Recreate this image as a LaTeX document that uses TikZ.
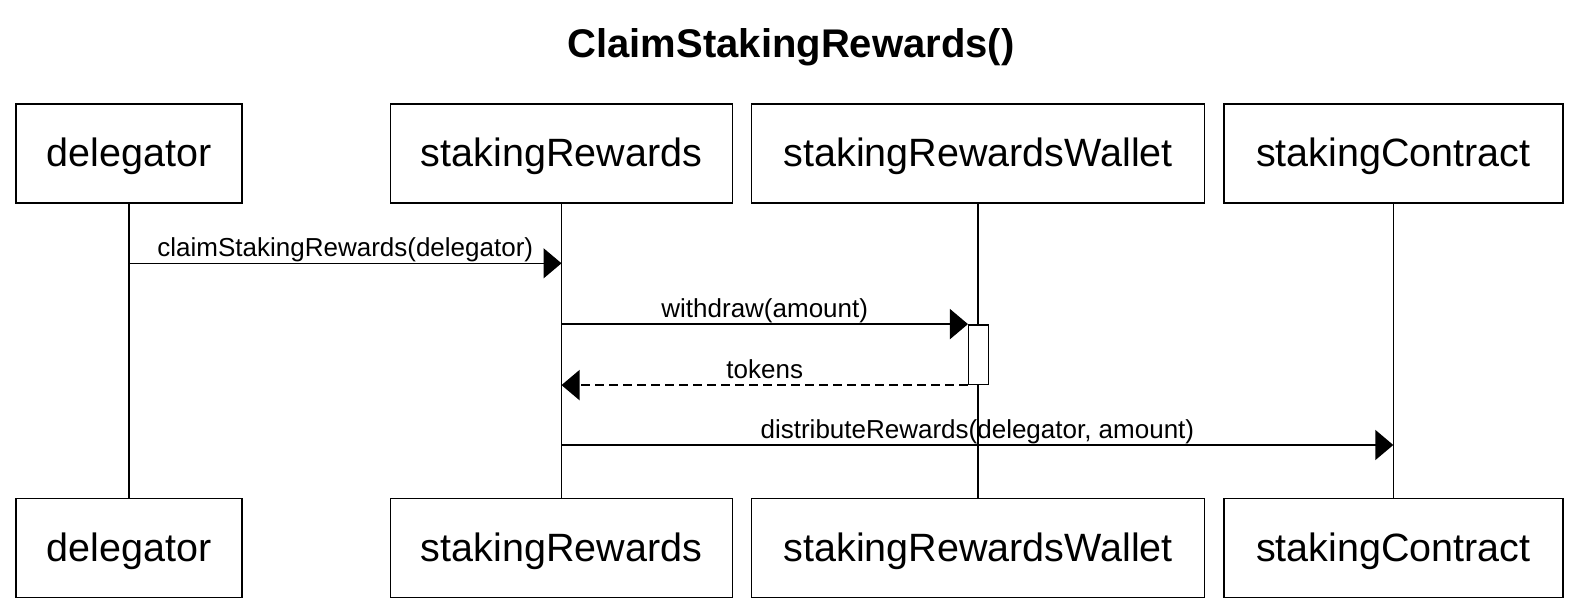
\documentclass[tikz,border=0pt]{standalone}
\usepackage{fontspec}
\setmainfont{Liberation Sans}
\usetikzlibrary{arrows.meta}
\begin{document}
\begin{tikzpicture}[x=1pt,y=-1pt,
  actorbox/.style={draw=black, line width=1.5pt, rectangle, inner sep=0pt,
    minimum height=99pt, text height=30pt, text depth=3pt,
    font=\fontsize{39.5}{47}\selectfont},
  lifeline/.style={draw=black, line width=1.5pt},
  actbox/.style={draw=black, fill=white, line width=1.5pt, rectangle, inner sep=0pt,
    minimum width=20pt, minimum height=59.5pt},
  msg/.style={draw=black, line width=1.5pt, -{Triangle[length=18pt,width=30pt]}},
  retmsg/.style={msg, dash pattern=on 9pt off 5pt},
  msglbl/.style={midway, anchor=base, yshift=6.5pt, inner sep=0pt,
    font=\fontsize{26}{31}\selectfont}
]
\fill[white] (0,0) rectangle (1582,610);
\useasboundingbox (0,0) rectangle (1582,610);

\node[anchor=base, font=\bfseries\fontsize{40}{48}\selectfont] (title) at (791,57.5) {ClaimStakingRewards()};

% top boxes
\node[actorbox, minimum width=226pt] (d)  at (129.1,153.4) {delegator};
\node[actorbox, minimum width=342pt] (sr) at (561.5,153.4) {stakingRewards};
\node[actorbox, minimum width=453pt] (w)  at (978.2,153.4) {stakingRewardsWallet};
\node[actorbox, minimum width=339pt] (sc) at (1393.3,153.4) {stakingContract};
% bottom boxes
\node[actorbox, minimum width=226pt] (db)  at (129.1,547.9) {delegator};
\node[actorbox, minimum width=342pt] (srb) at (561.5,547.9) {stakingRewards};
\node[actorbox, minimum width=453pt] (wb)  at (978.2,547.9) {stakingRewardsWallet};
\node[actorbox, minimum width=339pt] (scb) at (1393.3,547.9) {stakingContract};

% lifelines
\draw[lifeline] (d.south) -- (db.north);
\draw[lifeline] (sr.south) -- (srb.north);
\draw[lifeline] (w.south) -- (wb.north);
\draw[lifeline] (sc.south) -- (scb.north);

% activation
\node[actbox] (act) at (978.7,354.6) {};

% messages
\draw[msg] (d.south |- 0,263.3) -- node[msglbl]{claimStakingRewards(delegator)} (sr.south |- 0,263.3);
\draw[msg] (sr.south |- act.north) -- node[msglbl]{withdraw(amount)} (act.north west);
\draw[retmsg] (act.south west) -- node[msglbl]{tokens} (sr.south |- act.south);
\draw[msg] (sr.south |- 0,445) -- node[msglbl]{distributeRewards(delegator, amount)} (sc.south |- 0,445);
\end{tikzpicture}
\end{document}
